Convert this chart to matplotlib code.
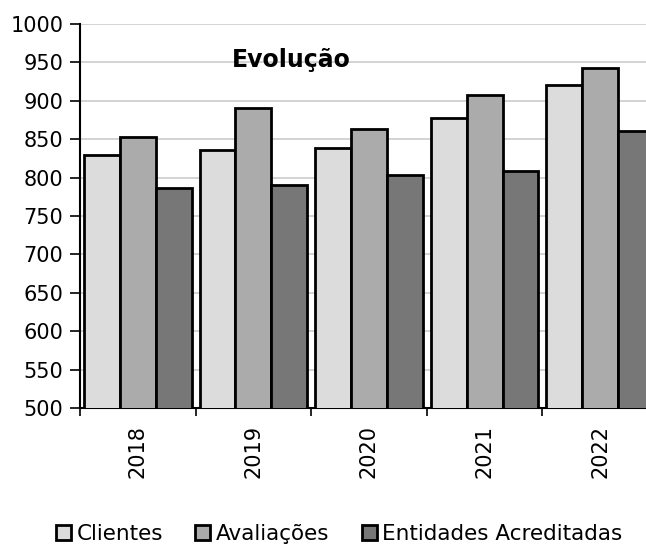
import numpy as np
import matplotlib.pyplot as plt
from matplotlib.ticker import FixedLocator

years = ["2018", "2019", "2020", "2021", "2022"]
clientes = [830, 836, 838, 878, 920]
avaliacoes = [853, 891, 863, 907, 943]
entidades = [786, 791, 804, 809, 861]
series_names = ["Clientes", "Avaliações", "Entidades Acreditadas"]
colors = ["#dcdcdc", "#ababab", "#777777"]

fig = plt.figure(figsize=(6.46, 5.45), dpi=100)
# plot area runs slightly past the right edge, as in the original
ax = fig.add_axes([80 / 646, 1 - 408 / 545, 578 / 646, 384 / 545])

x = np.arange(len(years))
w = 0.31
for i, (vals, name, col) in enumerate(zip([clientes, avaliacoes, entidades], series_names, colors)):
    ax.bar(x + (i - 1) * w, vals, width=w, color=col, edgecolor="black",
           linewidth=2, label=name, zorder=3)

ax.set_xlim(-0.5, len(years) - 0.5)
ax.set_ylim(500, 1000)
ax.set_yticks(np.arange(500, 1001, 50))
ax.yaxis.grid(True, color="#cccccc", linewidth=1.2, zorder=0)

ax.set_xticks(x)
ax.set_xticklabels(years, rotation=90, fontsize=15)
ax.tick_params(axis="x", which="major", length=0, pad=12)
ax.xaxis.set_minor_locator(FixedLocator(np.arange(-0.5, len(years), 1.0)))
ax.tick_params(axis="x", which="minor", length=6, width=1.2, color="black")
ax.tick_params(axis="y", labelsize=15, length=7, width=1.2, pad=5)

for s in ["top", "right"]:
    ax.spines[s].set_visible(False)
for s in ["left", "bottom"]:
    ax.spines[s].set_linewidth(1.5)

ax.text(0.365, 0.905, "Evolução", transform=ax.transAxes, fontsize=17,
        fontweight="bold", ha="center", va="center")

handles, labels = ax.get_legend_handles_labels()
fig.legend(handles, labels, loc="center", bbox_to_anchor=(0.525, 0.02),
           ncol=3, frameon=False, fontsize=15.5, handlelength=0.7,
           handleheight=0.7, handletextpad=0.25, columnspacing=1.5)

fig.savefig("out.png", dpi=100)
